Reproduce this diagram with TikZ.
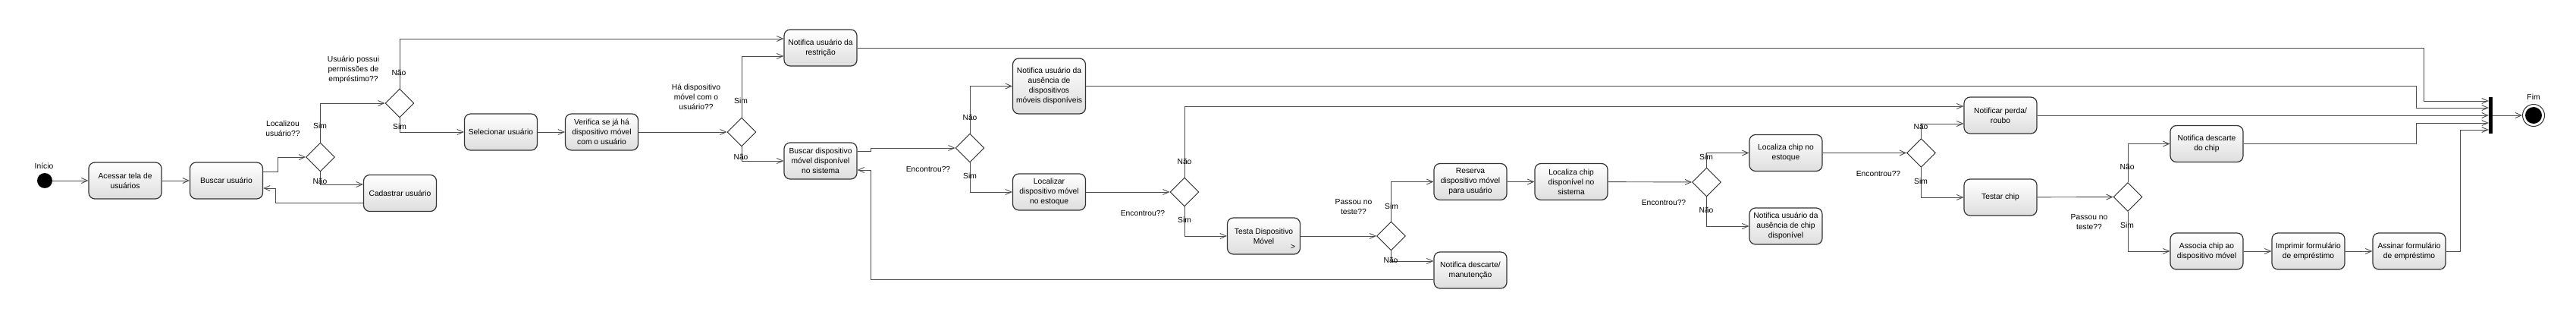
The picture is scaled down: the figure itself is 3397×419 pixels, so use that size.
\documentclass[tikz,border=0pt]{standalone}
\usepackage{fontspec}
\setmainfont{Liberation Sans}
\usetikzlibrary{arrows.meta,shapes.geometric}

\begin{document}
\begin{tikzpicture}[x=1pt, y=-1pt,
  act/.style={draw=black!80, line width=1.2pt, rounded corners=8pt, top color=white, bottom color=black!13,
    minimum width=96pt, minimum height=48pt, inner sep=1pt, align=center, font=\txtfont},
  dec/.style={diamond, draw=black!85, line width=0.9pt, fill=white, minimum size=38pt, inner sep=0pt},
  cond/.style={align=center, font=\txtfont},
  guard/.style={inner sep=0pt, font=\txtfont},
  flow/.style={draw=black!70, line width=0.9pt, -{Straight Barb[length=8pt,width=7pt]}}]
% Diagrama de atividades exportado (coordenadas em px)
\def\txtfont{\fontsize{10.3}{13}\selectfont}
\useasboundingbox (0,0) rectangle (3397,419);
% Inicio e fim
\node[circle, fill=black, minimum size=20pt, inner sep=0pt] (inicio) at (59,238) {};
\node[cond] at (58,219) {Início};
\node[fill=black, minimum width=5pt, minimum height=48pt, inner sep=0pt] (juncao) at (3284.5,152) {};
\node[circle, draw=black!80, line width=1pt, fill=white, minimum size=29pt, inner sep=0pt,
  path picture={\fill[black] (path picture bounding box.center) circle (11pt);}] (fim) at (3341,152) {};
\node[cond] at (3341,128) {Fim};
% Atividades
\node[act] (acessar) at (165,238) {Acessar tela de\\usuários};
\node[act] (buscarU) at (298.5,238) {Buscar usuário};
\node[act] (cadastrar) at (527.5,254.5) {Cadastrar usuário};
\node[act] (selecionar) at (660.5,174) {Selecionar usuário};
\node[act] (verifica) at (793.5,174) {Verifica se já há\\dispositivo móvel\\com o usuário};
\node[act] (notRestr) at (1082,63) {Notifica usuário da\\restrição};
\node[act] (buscarD) at (1082,212) {Buscar dispositivo\\móvel disponível\\no sistema};
\node[act, minimum height=73pt] (notAusD) at (1383.5,113.5) {Notifica usuário da\\ausência de\\dispositivos\\móveis disponíveis};
\node[act] (localizarD) at (1383.5,253) {Localizar\\dispositivo móvel\\no estoque};
\node[act] (testaD) at (1666.5,311) {Testa Dispositivo\\Móvel};
\node[guard] at (1705,325) {>};
\node[act] (reserva) at (1939,239.5) {Reserva\\dispositivo móvel\\para usuário};
\node[act] (notDesc) at (1939,356) {Notifica descarte/\\manutenção};
\node[act] (chipSis) at (2072,239.5) {Localiza chip\\disponível no\\sistema};
\node[act] (chipEst) at (2355,201.5) {Localiza chip no\\estoque};
\node[act] (notAusC) at (2355,298) {Notifica usuário da\\ausência de chip\\disponível};
\node[act] (perda) at (2638,152) {Notificar perda/\\roubo};
\node[act] (testarC) at (2638,260) {Testar chip};
\node[act] (descChip) at (2910,189.5) {Notifica descarte\\do chip};
\node[act] (associa) at (2910,331) {Associa chip ao\\dispositivo móvel};
\node[act] (imprimir) at (3044,331) {Imprimir formulário\\de empréstimo};
\node[act] (assinar) at (3177,331) {Assinar formulário\\de empréstimo};
% Decisoes
\node[dec] (d1) at (422.5,207) {};
\node[dec] (d2) at (527,136) {};
\node[dec] (d3) at (978,174) {};
\node[dec] (d4) at (1279,195) {};
\node[dec] (d5) at (1562,253) {};
\node[dec] (d6) at (1834.5,311) {};
\node[dec] (d7) at (2250.5,240) {};
\node[dec] (d8) at (2533.5,201.5) {};
\node[dec] (d9) at (2806,259.5) {};
\node[cond] at (373,169) {Localizou\\usuário??};
\node[cond] at (466,92) {Usuário possui\\permissões de\\empréstimo??};
\node[cond] at (918,128) {Há dispositivo\\móvel com o\\usuário??};
\node[cond] at (1224,223) {Encontrou??};
\node[cond] at (1507,281) {Encontrou??};
\node[cond] at (1785,273) {Passou no\\teste??};
\node[cond] at (2194,267) {Encontrou??};
\node[cond] at (2477,229) {Encontrou??};
\node[cond] at (2755,293) {Passou no\\teste??};
% Fluxos
\draw[flow] (inicio) -- (acessar);
\draw[flow] (acessar) -- (buscarU);
\draw[flow] ([yshift=12]buscarU.east) -- ++(19,0) |- (d1.west);
\draw[flow] (d1.north) |- (d2.west);
\draw[flow] (d1.south) |- ([yshift=11.5]cadastrar.west);
\draw[flow] ([yshift=-12.5]cadastrar.west) -- ++(-115,0) |- ([yshift=-10]buscarU.east);
\draw[flow] (d2.north) |- ([yshift=12]notRestr.west);
\draw[flow] (d2.south) |- (selecionar.west);
\draw[flow] (selecionar) -- (verifica);
\draw[flow] (verifica) -- (d3);
\draw[flow] (d3.north) |- ([yshift=-11]notRestr.west);
\draw[flow] (d3.south) |- (buscarD.west);
\draw[flow] ([yshift=13]buscarD.east) -- ++(18,0) |- (d4.west);
\draw[flow] (d4.north) |- (notAusD.west);
\draw[flow] (d4.south) |- (localizarD.west);
\draw[flow] (localizarD) -- (d5);
\draw[flow] (d5.north) |- ([yshift=12]perda.west);
\draw[flow] (d5.south) |- (testaD.west);
\draw[flow] (testaD) -- (d6);
\draw[flow] (d6.north) |- (reserva.west);
\draw[flow] (d6.south) |- ([yshift=12]notDesc.west);
\draw[flow] ([yshift=-12]notDesc.west) -| ([xshift=18,yshift=-12]buscarD.east) -- ([yshift=-12]buscarD.east);
\draw[flow] (reserva) -- (chipSis);
\draw[flow] (chipSis) -- (d7);
\draw[flow] (d7.north) |- (chipEst.west);
\draw[flow] (d7.south) |- (notAusC.west);
\draw[flow] (chipEst) -- (d8);
\draw[flow] (d8.north) |- ([yshift=-11]perda.west);
\draw[flow] (d8.south) |- (testarC.west);
\draw[flow] (testarC) -- (d9);
\draw[flow] (d9.north) |- (descChip.west);
\draw[flow] (d9.south) |- (associa.west);
\draw[flow] (associa) -- (imprimir);
\draw[flow] (imprimir) -- (assinar);
% Entradas da juncao
\draw[flow] (notRestr.east) -| ([xshift=-85,yshift=19]juncao.west) -- ([yshift=19]juncao.west);
\draw[flow] (notAusD.east) -| ([xshift=-95,yshift=10]juncao.west) -- ([yshift=10]juncao.west);
\draw[flow] (perda.east) -- (juncao.west);
\draw[flow] (descChip.east) -| ([xshift=-95,yshift=-10]juncao.west) -- ([yshift=-10]juncao.west);
\draw[flow] (assinar.east) -- ++(19,0) |- ([yshift=-19]juncao.west);
\draw[flow] (juncao) -- (fim);
% Guardas
\node[guard] at (422,166) {Sim};
\node[guard] at (422,239) {Não};
\node[guard] at (526,96) {Não};
\node[guard] at (527,167) {Sim};
\node[guard] at (977,133) {Sim};
\node[guard] at (977,207) {Não};
\node[guard] at (1279,155) {Não};
\node[guard] at (1279,232) {Sim};
\node[guard] at (1562,213) {Não};
\node[guard] at (1562,290) {Sim};
\node[guard] at (1835,272) {Sim};
\node[guard] at (1834,343) {Não};
\node[guard] at (2250,207) {Sim};
\node[guard] at (2250,277) {Não};
\node[guard] at (2533,167) {Não};
\node[guard] at (2533,239) {Sim};
\node[guard] at (2805,220) {Não};
\node[guard] at (2805,297) {Sim};
\end{tikzpicture}
\end{document}
